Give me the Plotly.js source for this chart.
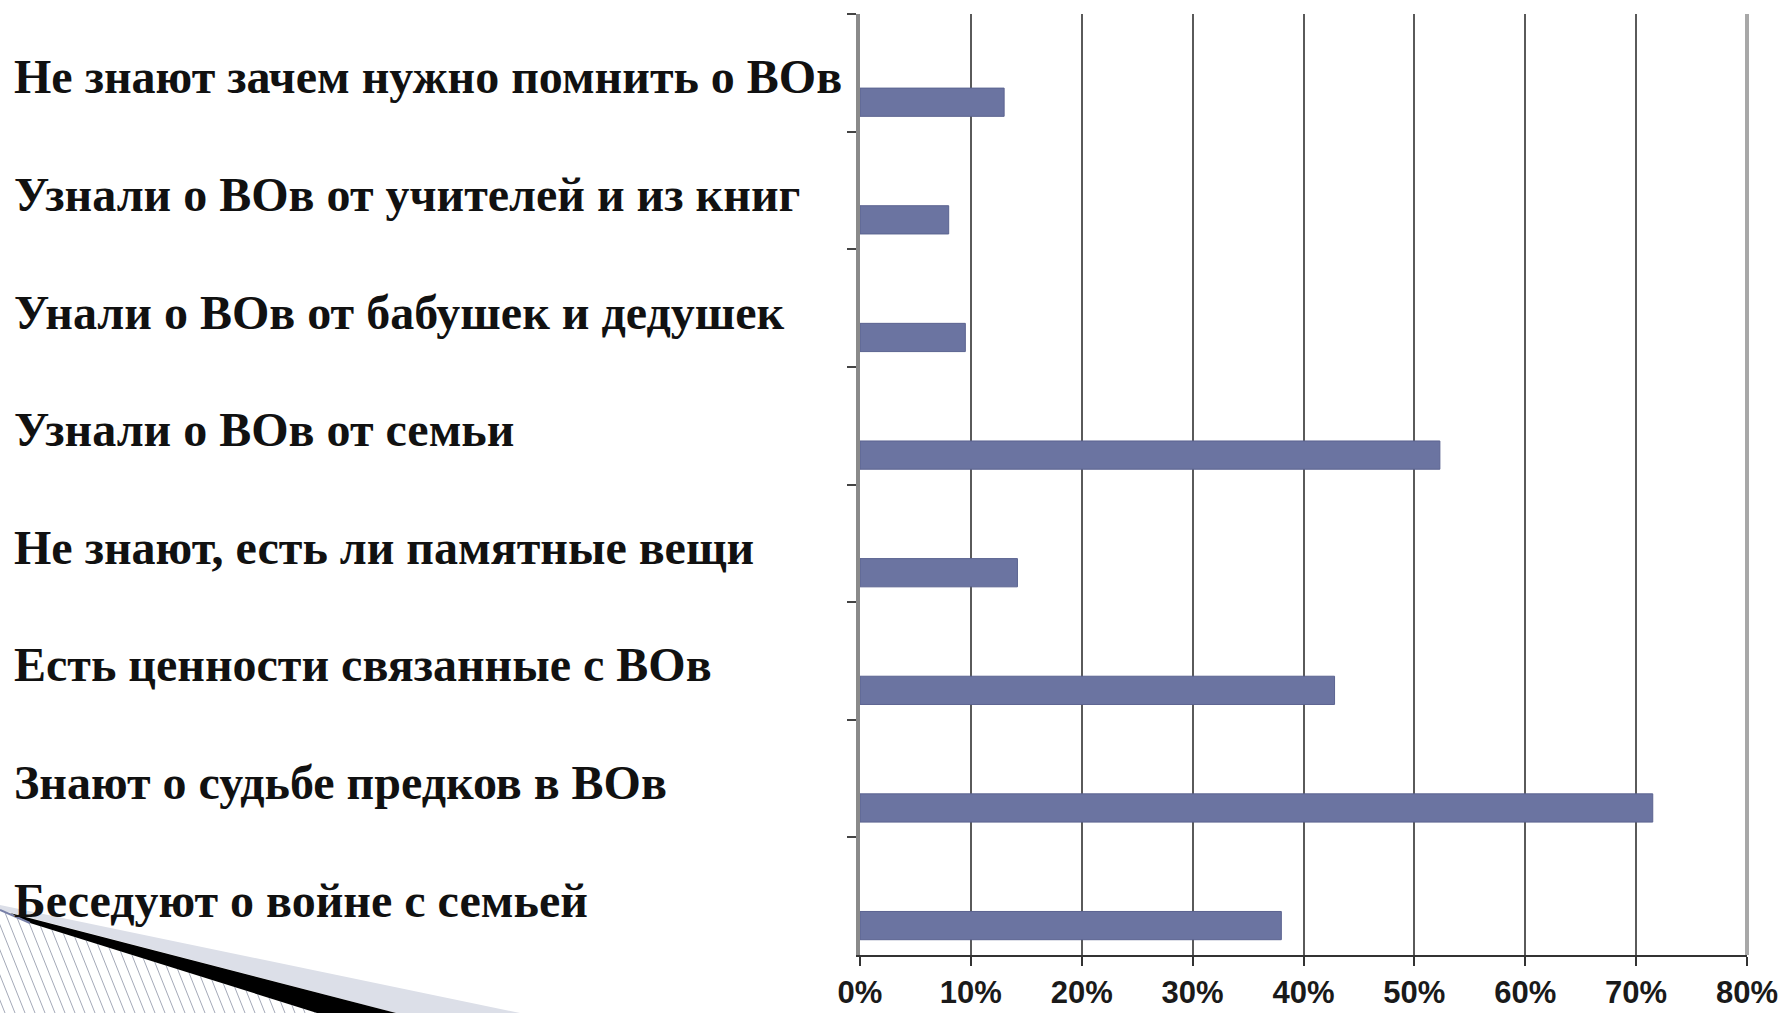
<!DOCTYPE html>
<html>
<head>
<meta charset="utf-8">
<script src="https://cdn.plot.ly/plotly-3.0.1.min.js"></script>
<style>html,body{margin:0;padding:0;background:#fff;}#chart{width:1787px;height:1013px;}</style>
</head>
<body>
<div id="chart"></div>
<script>
// ---- data ----
const categories = [
  "Не знают зачем нужно помнить о ВОв",
  "Узнали о ВОв от учителей и из книг",
  "Унали о ВОв от бабушек и дедушек",
  "Узнали о ВОв от семьи",
  "Не знают, есть ли памятные вещи",
  "Есть ценности связанные с ВОв",
  "Знают о судьбе предков в ВОв",
  "Беседуют о войне с семьей"
];
const values = [0.13, 0.08, 0.095, 0.523, 0.142, 0.428, 0.715, 0.38];
const tickVals = [0, 0.1, 0.2, 0.3, 0.4, 0.5, 0.6, 0.7, 0.8];
const tickText = ["0%", "10%", "20%", "30%", "40%", "50%", "60%", "70%", "80%"];

// ---- layout geometry ----
const W = 1787, H = 1013;
const M = {l: 860, r: 40, t: 14, b: 58};
const PW = W - M.l - M.r, PH = H - M.t - M.b;
const px = x => (x - M.l) / PW;          // pixel -> paper x
const py = y => 1 - (y - M.t) / PH;      // pixel -> paper y
const poly = pts => 'M ' + pts.map(p => px(p[0]) + ' ' + py(p[1])).join(' L ') + ' Z';

const trace = {
  type: 'bar',
  orientation: 'h',
  x: values,
  y: categories,
  width: 0.24,
  offset: 0.13,
  marker: {color: '#6b74a1', line: {color: '#5b6390', width: 1}},
  hoverinfo: 'x+y'
};

// category labels, left-aligned at the slide's left margin
const annotations = categories.map(c => ({
  xref: 'paper', yref: 'y', x: px(12), y: c, yshift: -4,
  xanchor: 'left', yanchor: 'middle', showarrow: false, text: c,
  font: {family: 'Liberation Serif, Times New Roman, serif', size: 48, color: '#111', weight: 'bold'}
}));

// plot-area right border + decorative slide corner
const shapes = [];
shapes.push({type: 'line', xref: 'paper', yref: 'paper', x0: 1, x1: 1, y0: 0, y1: 1,
  line: {color: '#a8a8a8', width: 4}, layer: 'above'});
// hatching
for (let k = -80; k < 340; k += 10) {
  shapes.push({type: 'line', xref: 'paper', yref: 'paper', layer: 'above',
    x0: px(k), y0: py(900), x1: px(k + 45), y1: py(1013),
    line: {color: '#a4a9b8', width: 1}});
}
// white mask above the hatched region
shapes.push({type: 'path', xref: 'paper', yref: 'paper', layer: 'above',
  path: poly([[-2, 880], [700, 880], [700, 1013], [317, 1013], [30, 923], [-2, 910]]),
  fillcolor: '#ffffff', line: {width: 0}});
// light band
shapes.push({type: 'path', xref: 'paper', yref: 'paper', layer: 'above',
  path: poly([[0, 905], [520, 1013], [396, 1013], [0, 910]]),
  fillcolor: '#dcdfe8', line: {width: 0}});
// black wedge
shapes.push({type: 'path', xref: 'paper', yref: 'paper', layer: 'above',
  path: poly([[10, 913], [396, 1013], [317, 1013], [30, 923]]),
  fillcolor: '#000000', line: {width: 0}});
shapes.push({type: 'line', xref: 'paper', yref: 'paper', layer: 'above',
  x0: px(0), y0: py(910), x1: px(30), y1: py(923), line: {color: '#7880a8', width: 2}});

const layout = {
  width: W, height: H,
  margin: M,
  paper_bgcolor: '#ffffff', plot_bgcolor: '#ffffff',
  showlegend: false,
  xaxis: {
    range: [0, 0.8], tickvals: tickVals, ticktext: tickText,
    showgrid: true, gridcolor: '#5a5a5a', gridwidth: 2,
    zeroline: false, showline: true, linecolor: '#333', linewidth: 2,
    ticks: 'outside', ticklen: 9, tickwidth: 2, tickcolor: '#333',
    tickfont: {family: 'Liberation Sans, Arial, sans-serif', size: 31, color: '#1a1a1a', weight: 'bold'},
    fixedrange: true
  },
  yaxis: {
    type: 'category', autorange: 'reversed',
    showticklabels: false, showgrid: false, zeroline: false,
    showline: true, linecolor: '#8a8a8a', linewidth: 4,
    ticks: 'outside', tickson: 'boundaries', ticklen: 9, tickwidth: 2, tickcolor: '#444',
    fixedrange: true
  },
  annotations: annotations,
  shapes: shapes
};

Plotly.newPlot('chart', [trace], layout, {displayModeBar: false, staticPlot: true});
</script>
</body>
</html>
